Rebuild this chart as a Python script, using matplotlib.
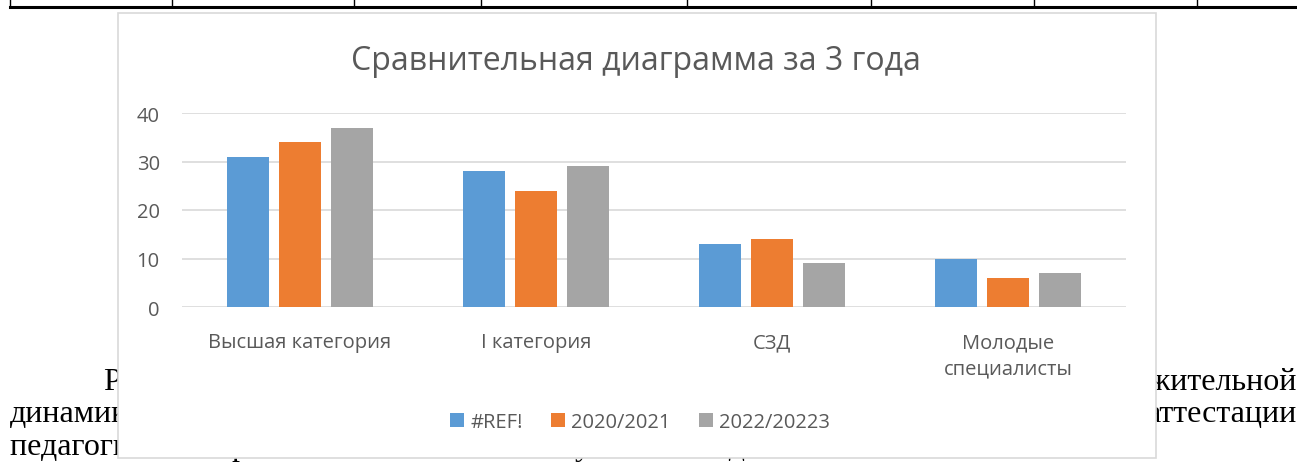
import matplotlib
matplotlib.use("Agg")
import matplotlib.pyplot as plt
import numpy as np
from matplotlib.patches import Rectangle

# данные диаграммы
categories = ["Высшая категория", "I категория", "СЗД", "Молодые\nспециалисты"]
series_names = ["#REF!", "2020/2021", "2022/20223"]
s_ref = [31, 28, 13, 10]
s_2021 = [34, 24, 14, 6]
s_2023 = [37, 29, 9, 7]
yticks = [0, 10, 20, 30, 40]

colors = ["#5B9BD5", "#ED7D31", "#A5A5A5"]
txt = "#595959"

W, H = 1297, 464
fig = plt.figure(figsize=(W / 100, H / 100), dpi=100)
fig.patch.set_facecolor("white")

def px(x, y):
    # пиксели -> доли фигуры
    return x / W, 1 - y / H

# фон документа: таблица сверху
fig.add_artist(plt.Line2D([10 / W, 1], [1 - 8 / H] * 2, color="black", lw=2.2,
                          transform=fig.transFigure, zorder=-3))
for xv in [10, 172, 354, 481, 687, 871, 1034, 1197]:
    fig.add_artist(plt.Line2D([xv / W] * 2, [1 - 8 / H, 1], color="black", lw=1,
                              transform=fig.transFigure, zorder=-3))

# фон документа: текст
serif = dict(family="Liberation Serif", fontsize=23, color="black", zorder=-3,
             va="baseline")
fig.text(*px(103, 390), "Рисунок", **serif)
fig.text(*px(1297, 390), "положительной", ha="right", **serif)
fig.text(*px(10, 422), "динамики", **serif)
fig.text(*px(1297, 422), "аттестации", ha="right", **serif)
fig.text(*px(10, 455), "педагогических работников за 2022/2023 учебный год выполнен на 100%.",
         **serif)

# рамка диаграммы
fig.add_artist(Rectangle(px(118, 459), (1156 - 118) / W, (459 - 14) / H,
                         transform=fig.transFigure, facecolor="white",
                         edgecolor="#D9D9D9", lw=1.2, zorder=-1))

ax = fig.add_axes([182 / W, 1 - 308 / H, (1126 - 182) / W, (308 - 114) / H])
ax.set_facecolor("none")

x = np.arange(len(categories))
bw = 0.175
step = 0.22
for i, (vals, c, name) in enumerate(zip([s_ref, s_2021, s_2023], colors, series_names)):
    ax.bar(x + (i - 1) * step, vals, bw, color=c, label=name, zorder=2)

ax.set_xlim(-0.5, len(categories) - 0.5)
ax.set_ylim(0, 40)
ax.set_yticks(yticks)
ax.grid(axis="y", color="#D9D9D9", lw=1.2, zorder=0)
for s in ax.spines.values():
    s.set_visible(False)
ax.tick_params(length=0)
ax.tick_params(axis="y", labelsize=14.5, labelcolor=txt, pad=16)
ax.set_xticks(x)
ax.set_xticklabels(categories, fontsize=14.5, color=txt, family="Open Sans",
                   linespacing=1.45, va="top")
ax.tick_params(axis="x", pad=18)
for lab in ax.get_yticklabels():
    lab.set_family("Open Sans")

fig.text(*px(636, 62), "Сравнительная диаграмма за 3 года", ha="center", va="center",
         fontsize=23, color=txt, family="Open Sans")

fig.legend(loc="center", bbox_to_anchor=px(640, 423), ncol=3, frameon=False,
           prop={"family": "Open Sans", "size": 14.5}, labelcolor=txt,
           handlelength=0.7, handleheight=0.7, handletextpad=0.3, columnspacing=1.4)

fig.savefig("out.png", dpi=100)
